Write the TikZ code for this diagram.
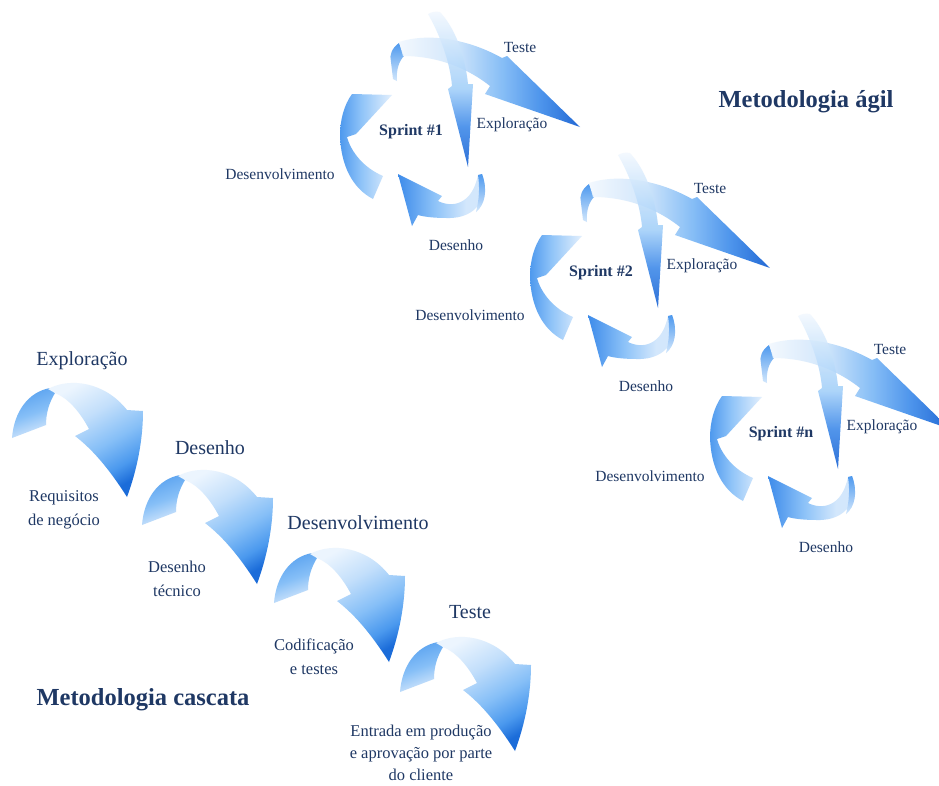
\documentclass[tikz,border=0pt]{standalone}
\usepackage{fontspec}
\setmainfont{Liberation Serif}
\definecolor{navy}{HTML}{1F3864}
\definecolor{wDark}{HTML}{1B6CD9}
\definecolor{wMidD}{HTML}{4B99EE}
\definecolor{wMid}{HTML}{86BFF7}
\definecolor{wLightB}{HTML}{C3DFFB}
\definecolor{wLight}{HTML}{ECF5FE}
\definecolor{wBack}{HTML}{58A1EF}
\definecolor{wBackL}{HTML}{DCEBFC}
\definecolor{sDark}{HTML}{0A58D0}
\definecolor{sDarkM}{HTML}{3584E8}
\definecolor{sMid}{HTML}{9ECDF9}
\definecolor{sTop}{HTML}{F2F8FE}
\definecolor{sLightB}{HTML}{CFE5FB}
\definecolor{sMidB}{HTML}{7DB9F6}
\definecolor{sMidD}{HTML}{3B8AEA}
\definecolor{lBlue}{HTML}{4E99EE}
\definecolor{lMid}{HTML}{8EC3F8}
\definecolor{lLight}{HTML}{E4F0FD}
\definecolor{bBlue}{HTML}{3D8BEA}
\definecolor{bLight}{HTML}{D3E7FC}
\pgfdeclareverticalshading{wffront}{100bp}{color(0bp)=(wDark); color(25bp)=(wDark); color(33bp)=(wMidD); color(45bp)=(wMid); color(60bp)=(wLightB); color(75bp)=(wLight); color(100bp)=(wLight)}
\pgfdeclareverticalshading{wfback}{100bp}{color(0bp)=(wBackL); color(25bp)=(wBackL); color(50bp)=(wMid); color(75bp)=(wBack); color(100bp)=(wBack)}
\pgfdeclareverticalshading{svert}{100bp}{color(0bp)=(sDark); color(25bp)=(sDark); color(38bp)=(sDarkM); color(50bp)=(sMid); color(75bp)=(sTop); color(100bp)=(sTop)}
\pgfdeclarehorizontalshading{steste}{100bp}{color(0bp)=(sTop); color(25bp)=(sTop); color(40bp)=(sLightB); color(53bp)=(sMidB); color(64bp)=(sMidD); color(75bp)=(sDark); color(100bp)=(sDark)}
\pgfdeclarehorizontalshading{sleft}{100bp}{color(0bp)=(lBlue); color(25bp)=(lBlue); color(45bp)=(lMid); color(75bp)=(lLight); color(100bp)=(lLight)}
\pgfdeclarehorizontalshading{sbottom}{100bp}{color(0bp)=(bBlue); color(25bp)=(bBlue); color(45bp)=(lMid); color(62bp)=(bLight); color(69bp)=(bLight); color(75bp)=(sMidB); color(100bp)=(sMidB)}
\pgfdeclareverticalshading{scurl}{100bp}{color(0bp)=(bLight); color(25bp)=(bLight); color(75bp)=(lBlue); color(100bp)=(lBlue)}
\tikzset{
  biglbl/.style={text=navy, anchor=base, inner sep=0pt, font=\fontsize{20}{24}\selectfont},
  smalllbl/.style={text=navy, anchor=base, inner sep=0pt, align=center, font=\fontsize{16.5}{23.5}\selectfont},
  sprintlbl/.style={text=navy, anchor=base, inner sep=0pt, font=\fontsize{15.5}{18}\selectfont},
  sprinttitle/.style={text=navy, anchor=base, inner sep=0pt, font=\bfseries\fontsize{16}{18}\selectfont},
  maintitle/.style={text=navy, anchor=base, inner sep=0pt, font=\bfseries\fontsize{24.5}{28}\selectfont},
}
\newcommand\wfarrow[2]{%
\begin{scope}[shift={(#1,#2)}]
  \shade[shading=wfback, shading angle=20]
    (12,438) .. controls (14,412) and (28,392) .. (50,388) -- (55,393)
    .. controls (49,403) and (46,413) .. (46,425) -- cycle;
  \shade[shading=wffront, shading angle=30]
    (48,389) .. controls (70,377) and (105,382) .. (127,410) -- (143,411)
    .. controls (143,440) and (137,470) .. (127,497)
    .. controls (113,475) and (96,452) .. (75,436) -- (89,429)
    .. controls (80,412) and (68,398) .. (55,393) -- cycle;
\end{scope}}
\newcommand\sprintcycle[4]{%
\begin{scope}[shift={(#1,#2)}]
  % left arrow
  \shade[shading=sleft]
    (373,199) .. controls (352,188) and (341,165) .. (340,136)
    .. controls (340,120) and (344,105) .. (352,94) -- (392,95) -- (356,134) -- (347,137)
    .. controls (351,152) and (364,168) .. (383,176) -- cycle;
  % bottom arrow
  \shade[shading=sbottom]
    (398,174) -- (442,196) -- (438,201) .. controls (452,208) and (472,205) .. (478,175)
    -- (482,174) .. controls (490,195) and (478,219) .. (447,218)
    .. controls (435,218) and (425,217) .. (418,215) -- (412,226) -- cycle;
  \shade[shading=scurl]
    (478,175) -- (482,174) .. controls (488,190) and (485,205) .. (476,212)
    .. controls (479,200) and (480,188) .. (478,175) -- cycle;
  % Teste arrow
  \shade[shading=scurl]
    (399,43) .. controls (392,48) and (389,55) .. (391,62) -- (393,79) -- (397,81)
    .. controls (396,70) and (399,61) .. (404,56) -- cycle;
  \shade[shading=steste, fill opacity=0.9]
    (399,42) .. controls (430,32) and (470,40) .. (502,58) -- (507,56) -- (580,127)
    -- (485,94) -- (490,86) .. controls (470,70) and (440,56) .. (403,56) -- cycle;
  % Exploracao arrow
  \shade[shading=svert, fill opacity=0.85]
    (428,14) .. controls (440,35) and (450,62) .. (452,86) -- (448,89) -- (468,167)
    -- (473,84) -- (468,84) .. controls (465,55) and (455,28) .. (440,12)
    .. controls (436,11) and (431,12) .. (428,14) -- cycle;
  \node[sprinttitle] (#4-title) at (411,135) {Sprint #3};
  \node[sprintlbl] (#4-teste) at (520,52) {Teste};
  \node[sprintlbl] (#4-expl) at (512,128) {Exploração};
  \node[sprintlbl] (#4-desenv) at (280,179) {Desenvolvimento};
  \node[sprintlbl] (#4-desenho) at (456,250) {Desenho};
\end{scope}}
\begin{document}
\begin{tikzpicture}[x=1pt,y=-1pt]
\clip (0,0) rectangle (939,785);
\fill[white] (0,0) rectangle (939,785);
% waterfall
\wfarrow{0}{0}
\wfarrow{130}{87}
\wfarrow{262}{165}
\wfarrow{388}{254}
\node[biglbl] (c-expl) at (82,365) {Exploração};
\node[biglbl] (c-desenho) at (210,454) {Desenho};
\node[biglbl] (c-desenv) at (358,529) {Desenvolvimento};
\node[biglbl] (c-teste) at (470,618) {Teste};
\node[smalllbl] (c-req) at (64,525) {Requisitos\\de negócio};
\node[smalllbl] (c-tec) at (177,596) {Desenho\\técnico};
\node[smalllbl] (c-cod) at (314,674) {Codificação\\e testes};
\node[smalllbl, font=\fontsize{16.5}{22}\selectfont] (c-prod) at (421,780) {Entrada em produção\\e aprovação por parte\\do cliente};
\node[maintitle] (t-casc) at (143,705) {Metodologia cascata};
% agile
\sprintcycle{0}{0}{\#1}{s1}
\sprintcycle{190}{141}{\#2}{s2}
\sprintcycle{370}{302}{\#n}{sn}
\node[maintitle] (t-agil) at (806,107) {Metodologia ágil};
\end{tikzpicture}
\end{document}
